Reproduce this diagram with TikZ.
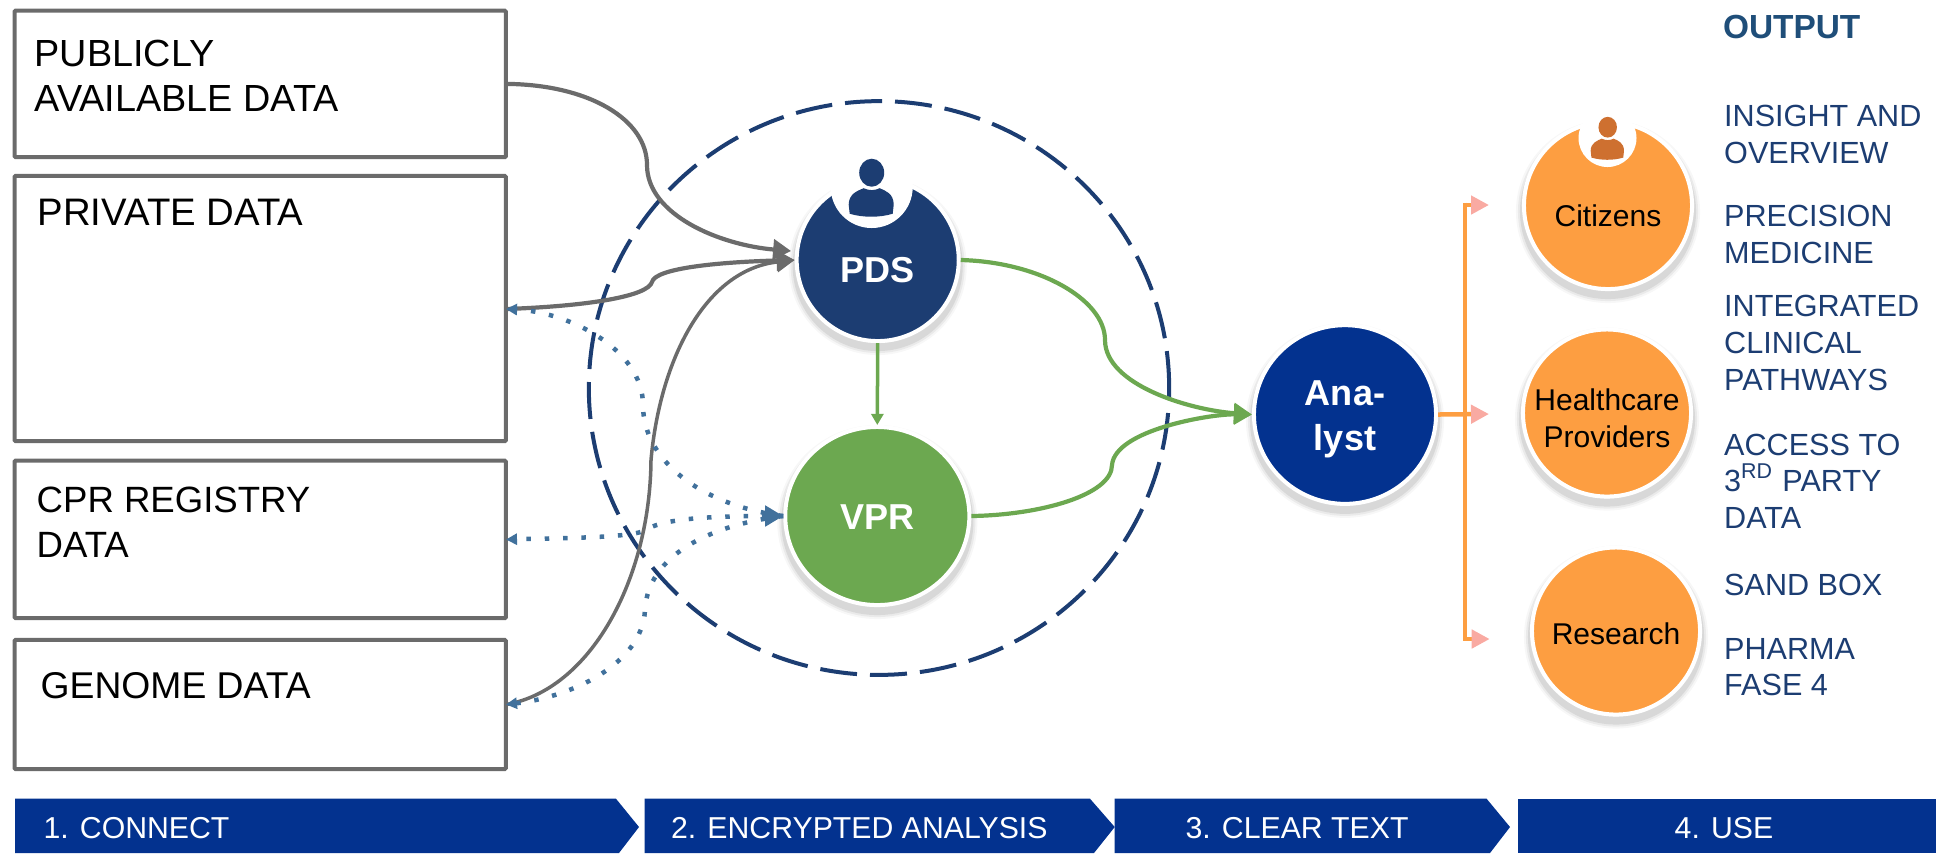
\documentclass[tikz,border=0pt]{standalone}
\usepackage{fontspec}
\setmainfont{Liberation Sans}
\usetikzlibrary{arrows.meta,shapes.geometric}

\definecolor{boxgray}{HTML}{6B6B6B}
\definecolor{pdsblue}{HTML}{1C3D72}
\definecolor{barblue}{HTML}{03328F}
\definecolor{vprgreen}{HTML}{6CA850}
\definecolor{citorange}{HTML}{FD9E41}
\definecolor{citicon}{HTML}{CE7030}
\definecolor{headpink}{HTML}{F9AAA2}
\definecolor{dotblue}{HTML}{41719C}
\definecolor{outblue}{HTML}{1F4E79}

\begin{document}
\begin{tikzpicture}[x=.01cm,y=-.01cm]
\tikzset{
    softshadow/.style={
        preaction={transform canvas={yshift=-.06cm},draw=black,opacity=.03,line width=.16cm},
        preaction={transform canvas={yshift=-.06cm},draw=black,opacity=.05,line width=.12cm},
        preaction={transform canvas={yshift=-.06cm},draw=black,opacity=.08,line width=.08cm}},
    disc/.style={ellipse,softshadow,draw=white,line width=.04cm,inner sep=0pt,outer sep=.02cm,align=center,text depth=0pt},
    whitedisc/.style={disc,fill=#1,text=white,font={\fontsize{10.25}{12.8}\selectfont\bfseries}},
    usedisc/.style={disc,fill=citorange,text=black,minimum width=1.68cm,minimum height=1.67cm,font={\fontsize{8.54}{10.44}\selectfont}},
    databox/.style={rectangle,draw=boxgray,line width=.04cm,rounded corners=.01cm,minimum width=4.91cm,inner sep=0pt},
    boxlabel/.style={anchor=base west,align=left,inner sep=0pt,text=black,font={\fontsize{#1}{12.8}\selectfont}},
    outlabel/.style={anchor=base west,align=left,inner sep=0pt,text=pdsblue,font={\fontsize{8.7}{10.4}\selectfont}},
    steplabel/.style={inner sep=0pt,text=white,font={\fontsize{8.6}{10}\selectfont}},
    stepbar/.style={fill=barblue},
    bigtip/.tip={Triangle[length=.18cm,width=.2cm]},
    smalltip/.tip={Triangle[length=.11cm,width=.11cm]},
    pinktip/.tip={Triangle[length=.18cm,width=.18cm,color=headpink]},
    feed/.style={draw=boxgray,line width=.042cm,-bigtip},
    thinfeed/.style={draw=boxgray,line width=.035cm,-bigtip},
    dots/.style={draw=dotblue,line width=.045cm,dash pattern=on .045cm off .138cm,-smalltip},
    flow/.style={draw=vprgreen,line width=.042cm,-bigtip},
    branch/.style={draw=citorange,line width=.045cm}}
\def\person{
    (0,0) ellipse[x radius=12.5,y radius=14]
    (-22,41) -- (-23,32) .. controls (-23,21) and (-14,18) .. (-8,15.5) .. controls (-3,18) and (3,18) .. (8,15.5) .. controls (14,18) and (22,21) .. (22,32) -- (21,41) .. controls (8,45) and (-9,45) .. (-22,41) -- cycle}

\useasboundingbox (0,0) rectangle (1936,853);

\node[ellipse,draw=pdsblue,line width=.04cm,dash pattern=on .37cm off .13cm,minimum width=5.8cm,minimum height=5.734cm,inner sep=0pt] (enclave) at (879,388) {};

\node[databox,minimum height=1.463cm] (public) at (260.2,83.9) {};
\node[databox,minimum height=2.65cm] (private) at (260.2,308.5) {};
\node[databox,minimum height=1.573cm] (registry) at (260.2,539.4) {};
\node[databox,minimum height=1.29cm] (genome) at (260.2,704.5) {};

\node[boxlabel=10.75] (publiclabel) at (34,111) {PUBLICLY\\AVAILABLE DATA};
\node[boxlabel=10.9] (privatelabel) at (37,225.7) {PRIVATE DATA};
\node[boxlabel=10.4] (registrylabel) at (36,557) {CPR REGISTRY\\DATA};
\node[boxlabel=10.6] (genomelabel) at (40,698) {GENOME DATA};

\node[whitedisc=pdsblue,minimum width=1.62cm,minimum height=1.62cm,text height=.44cm] (pds) at (877.7,260) {PDS};
\node[whitedisc=vprgreen,minimum width=1.84cm,minimum height=1.78cm,text height=.26cm] (vpr) at (877.3,516) {VPR};
\node[whitedisc=barblue,minimum width=1.82cm,minimum height=1.786cm,text height=.71cm] (analyst) at (1345,414.5) {Ana-\\lyst};

\node[usedisc,text height=.415cm] (citizens) at (1608,205.5) {Citizens};
\node[usedisc,text height=.68cm] (providers) at (1607,413) {\makebox[0pt]{Healthcare}\\\makebox[0pt]{Providers}};
\node[usedisc,text height=.275cm] (research) at (1616,631) {\makebox[0pt]{Research}};

\fill[white] (871.7,187) circle[radius=41];
\fill[pdsblue,shift={(871.7,172.7)}] \person;
\fill[white] (1607.5,138) circle[radius=29];
\fill[citicon,shift={(1607.7,127.2)},scale=.74] \person;

\coordinate (pubout) at (public.east);
\coordinate (privin) at (506,309);
\coordinate (regin) at (506,539.5);
\coordinate (genin) at (506,704.5);

\path[feed,shorten >=.04cm] (pubout) .. controls (590,85) and (647,120) .. (647,165) .. controls (647,215) and (720,245) .. (pds.174);
\path[feed] (privin) .. controls (590,306) and (648,296) .. (652,282) .. controls (655,268) and (720,262) .. (pds.west);
\path[thinfeed] (genin) .. controls (590,690) and (650,580) .. (651,460) .. controls (660,360) and (705,270) .. (pds.west);

\path[dots] (vpr.west) .. controls (700,505) and (643,460) .. (643,405) .. controls (643,350) and (570,312) .. (privin);
\path[dots] (vpr.west) .. controls (710,525) and (648,555) .. (645,610) .. controls (642,665) and (570,697) .. (genin);
\path[dots,bigtip-smalltip] (vpr.west) .. controls (700,516) and (660,520) .. (646,530) .. controls (632,538) and (560,538) .. (regin);

\draw[draw=vprgreen,line width=.035cm,-{Triangle[length=.11cm,width=.12cm]}] (pds.south) -- (vpr.north);
\path[flow] (pds.east) .. controls (1040,262) and (1105,300) .. (1105,340) .. controls (1105,385) and (1190,410) .. (analyst.west);
\path[flow] (vpr.east) .. controls (1040,515) and (1112,495) .. (1112,465) .. controls (1115,430) and (1210,414) .. (analyst.west);

\coordinate (trunktop) at (1465,202.7);
\coordinate (trunkbot) at (1465,640.7);
\coordinate (citin) at (1489,205);
\coordinate (provin) at (1489,414);
\coordinate (resin) at (1489.7,639);

\draw[branch] (trunktop) -- (trunkbot);
\draw[branch,-pinktip] (1463,205) -- (citin);
\draw[branch,-pinktip] (analyst.east) -- (provin);
\draw[branch,-pinktip] (1463,639) -- (resin);

\node[anchor=base west,inner sep=0pt,text=outblue,font={\fontsize{9.5}{11}\selectfont\bfseries}] (outhead) at (1722.3,38) {OUTPUT};
\node[outlabel] (insight) at (1723.5,163.3) {INSIGHT AND\\OVERVIEW};
\node[outlabel] (precision) at (1723.5,263.3) {PRECISION\\MEDICINE};
\node[outlabel] (pathways) at (1723.5,390) {INTEGRATED\\CLINICAL\\PATHWAYS};
\node[outlabel] (access) at (1723.5,528.3) {ACCESS TO\\3\textsuperscript{RD} PARTY\\DATA};
\node[outlabel] (sandbox) at (1723.5,595) {SAND BOX};
\node[outlabel] (pharma) at (1723.5,695.7) {PHARMA\\FASE 4};

\fill[stepbar] (15,798.7) -- (616,798.7) -- (639,827) -- (619,853) -- (15,853) -- cycle;
\fill[stepbar] (644.6,798.7) -- (1090,798.7) -- (1114.7,827) -- (1094,853) -- (644.6,853) -- cycle;
\fill[stepbar] (1114.7,798.7) -- (1486.6,798.7) -- (1510,827) -- (1490,853) -- (1114.7,853) -- cycle;
\fill[stepbar] (1517.5,798.7) -- (1936,798.7) -- (1936,853) -- (1517.5,853) -- cycle;

\node[steplabel] (connect) at (136.5,828) {1. CONNECT};
\node[steplabel] (encrypted) at (859.3,828) {2. ENCRYPTED ANALYSIS};
\node[steplabel] (clear) at (1297,828) {3. CLEAR TEXT};
\node[steplabel] (use) at (1724,828) {4. USE};

\end{tikzpicture}
\end{document}
